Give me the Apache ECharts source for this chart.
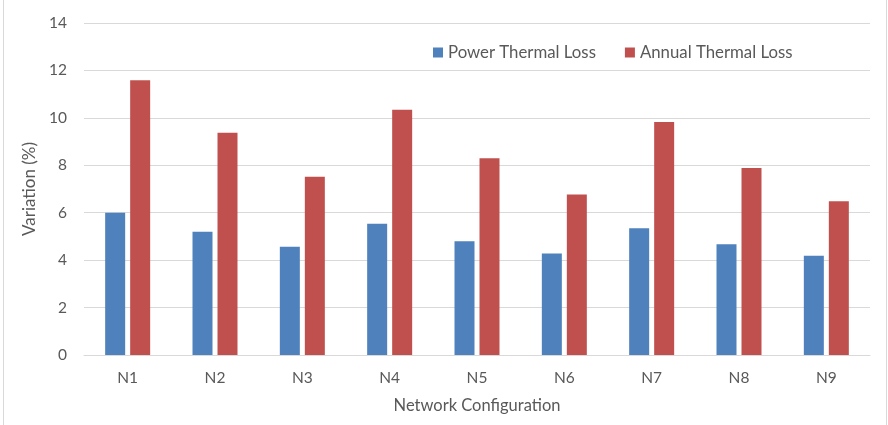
<!DOCTYPE html>
<html>
<head>
<meta charset="utf-8">
<script src="https://cdn.jsdelivr.net/npm/echarts@6/dist/echarts.min.js"></script>
<style>
  html, body { margin: 0; padding: 0; background: #ffffff; }
  #chart { width: 888px; height: 425px; }
</style>
</head>
<body>
<div id="chart"></div>
<script>
// Network configurations and the thermal loss variation for each one (%)
const categories = ['N1', 'N2', 'N3', 'N4', 'N5', 'N6', 'N7', 'N8', 'N9'];
const powerThermalLoss = [6.0, 5.2, 4.56, 5.53, 4.8, 4.28, 5.34, 4.67, 4.18];
const annualThermalLoss = [11.59, 9.37, 7.52, 10.34, 8.3, 6.77, 9.83, 7.89, 6.48];
const yTicks = { min: 0, max: 14, interval: 2 };

const FONT = 'Lato';
const TEXT = '#595959';

const chart = echarts.init(document.getElementById('chart'), null, { renderer: 'canvas' });

chart.setOption({
  animation: false,
  backgroundColor: '#ffffff',
  textStyle: { fontFamily: FONT, color: TEXT },
  grid: { left: 84, right: 18, top: 23, bottom: 70, containLabel: false },
  legend: {
    left: 428,
    top: 39,
    itemWidth: 10,
    itemHeight: 10,
    itemGap: 29,
    icon: 'rect',
    textStyle: { fontFamily: FONT, fontSize: 16.8, color: TEXT },
    data: ['Power Thermal Loss', 'Annual Thermal Loss']
  },
  xAxis: {
    type: 'category',
    data: categories,
    name: 'Network Configuration',
    nameLocation: 'middle',
    nameGap: 42,
    nameTextStyle: { fontFamily: FONT, fontSize: 16.5, color: TEXT },
    axisLine: { show: true, lineStyle: { color: '#d9d9d9', width: 1 } },
    axisTick: { show: false },
    axisLabel: { fontFamily: FONT, fontSize: 15.5, color: TEXT, margin: 15 }
  },
  yAxis: {
    type: 'value',
    min: yTicks.min,
    max: yTicks.max,
    interval: yTicks.interval,
    name: 'Variation (%)',
    nameLocation: 'middle',
    nameGap: 40,
    nameTextStyle: { fontFamily: FONT, fontSize: 17, color: TEXT },
    axisLine: { show: false },
    axisTick: { show: false },
    axisLabel: { fontFamily: FONT, fontSize: 15.5, color: TEXT, margin: 17 },
    splitLine: { lineStyle: { color: '#d9d9d9', width: 1 } }
  },
  series: [
    {
      name: 'Power Thermal Loss',
      type: 'bar',
      data: powerThermalLoss,
      barWidth: 20,
      barGap: '25%',
      itemStyle: { color: '#4F81BD' }
    },
    {
      name: 'Annual Thermal Loss',
      type: 'bar',
      data: annualThermalLoss,
      barWidth: 20,
      itemStyle: { color: '#C0504D' }
    }
  ],
  graphic: [
    { type: 'line', shape: { x1: 3.5, y1: 0, x2: 3.5, y2: 425 }, style: { stroke: '#d9d9d9', lineWidth: 1 } },
    { type: 'line', shape: { x1: 886.5, y1: 0, x2: 886.5, y2: 425 }, style: { stroke: '#d9d9d9', lineWidth: 1 } }
  ]
});
</script>
</body>
</html>
